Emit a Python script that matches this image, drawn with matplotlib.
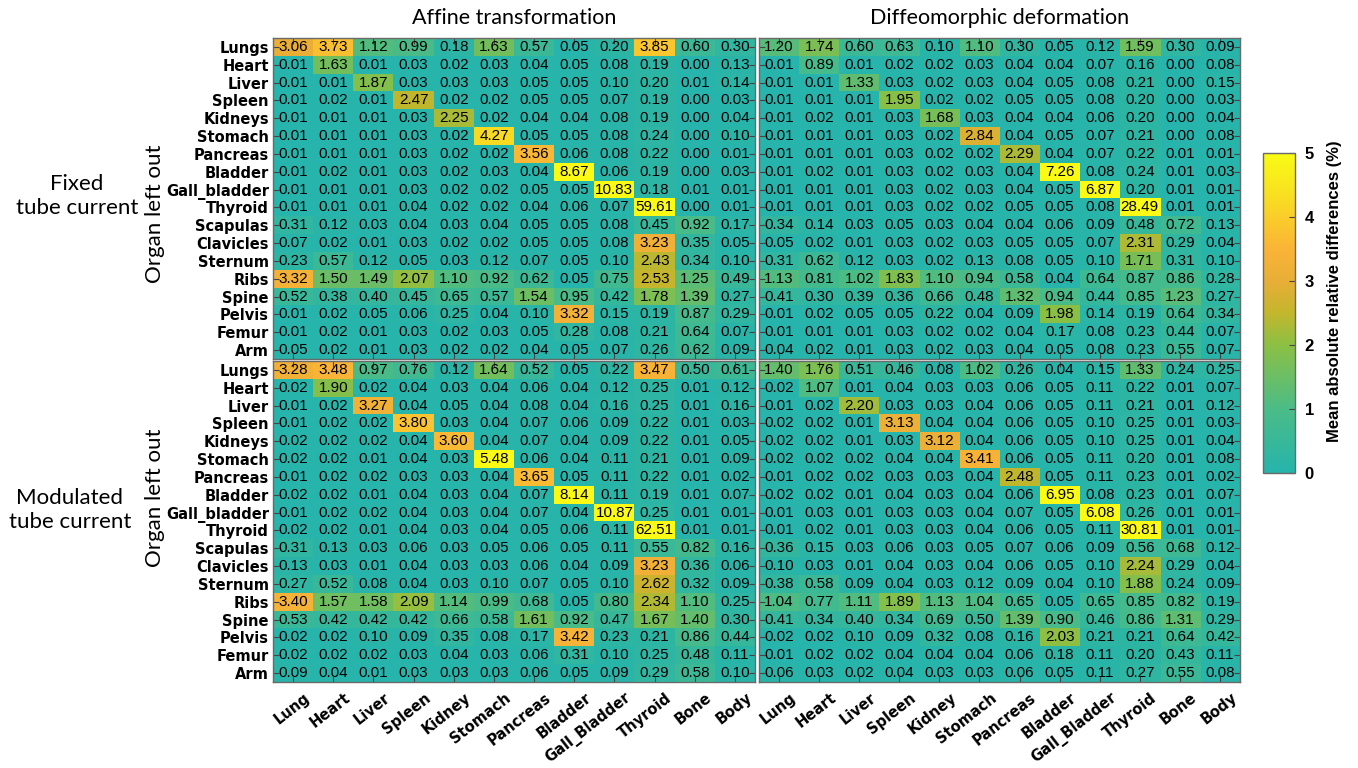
import numpy as np
import matplotlib
matplotlib.use('Agg')
import matplotlib.pyplot as plt
from matplotlib.colors import LinearSegmentedColormap
import matplotlib.transforms as mtransforms

organs_left_out = ["Lungs", "Heart", "Liver", "Spleen", "Kidneys", "Stomach", "Pancreas",
                   "Bladder", "Gall_bladder", "Thyroid", "Scapulas", "Clavicles", "Sternum",
                   "Ribs", "Spine", "Pelvis", "Femur", "Arm"]
dose_organs = ["Lung", "Heart", "Liver", "Spleen", "Kidney", "Stomach", "Pancreas",
               "Bladder", "Gall_Bladder", "Thyroid", "Bone", "Body"]

fixed_affine = [
    [3.06, 3.73, 1.12, 0.99, 0.18, 1.63, 0.57, 0.05, 0.20, 3.85, 0.60, 0.30],
    [0.01, 1.63, 0.01, 0.03, 0.02, 0.03, 0.04, 0.05, 0.08, 0.19, 0.00, 0.13],
    [0.01, 0.01, 1.87, 0.03, 0.03, 0.03, 0.05, 0.05, 0.10, 0.20, 0.01, 0.14],
    [0.01, 0.02, 0.01, 2.47, 0.02, 0.02, 0.05, 0.05, 0.07, 0.19, 0.00, 0.03],
    [0.01, 0.01, 0.01, 0.03, 2.25, 0.02, 0.04, 0.04, 0.08, 0.19, 0.00, 0.04],
    [0.01, 0.01, 0.01, 0.03, 0.02, 4.27, 0.05, 0.05, 0.08, 0.24, 0.00, 0.10],
    [0.01, 0.01, 0.01, 0.03, 0.02, 0.02, 3.56, 0.06, 0.08, 0.22, 0.00, 0.01],
    [0.01, 0.02, 0.01, 0.03, 0.02, 0.03, 0.04, 8.67, 0.06, 0.19, 0.00, 0.03],
    [0.01, 0.01, 0.01, 0.03, 0.02, 0.02, 0.05, 0.05, 10.83, 0.18, 0.01, 0.01],
    [0.01, 0.01, 0.01, 0.04, 0.02, 0.02, 0.04, 0.06, 0.07, 59.61, 0.00, 0.01],
    [0.31, 0.12, 0.03, 0.04, 0.03, 0.04, 0.05, 0.05, 0.08, 0.45, 0.92, 0.17],
    [0.07, 0.02, 0.01, 0.03, 0.02, 0.02, 0.05, 0.05, 0.08, 3.23, 0.35, 0.05],
    [0.23, 0.57, 0.12, 0.05, 0.03, 0.12, 0.07, 0.05, 0.10, 2.43, 0.34, 0.10],
    [3.32, 1.50, 1.49, 2.07, 1.10, 0.92, 0.62, 0.05, 0.75, 2.53, 1.25, 0.49],
    [0.52, 0.38, 0.40, 0.45, 0.65, 0.57, 1.54, 0.95, 0.42, 1.78, 1.39, 0.27],
    [0.01, 0.02, 0.05, 0.06, 0.25, 0.04, 0.10, 3.32, 0.15, 0.19, 0.87, 0.29],
    [0.01, 0.02, 0.01, 0.03, 0.02, 0.03, 0.05, 0.28, 0.08, 0.21, 0.64, 0.07],
    [0.05, 0.02, 0.01, 0.03, 0.02, 0.02, 0.04, 0.05, 0.07, 0.26, 0.62, 0.09],
]

fixed_diffeo = [
    [1.20, 1.74, 0.60, 0.63, 0.10, 1.10, 0.30, 0.05, 0.12, 1.59, 0.30, 0.09],
    [0.01, 0.89, 0.01, 0.02, 0.02, 0.03, 0.04, 0.04, 0.07, 0.16, 0.00, 0.08],
    [0.01, 0.01, 1.33, 0.03, 0.02, 0.03, 0.04, 0.05, 0.08, 0.21, 0.00, 0.15],
    [0.01, 0.01, 0.01, 1.95, 0.02, 0.02, 0.05, 0.05, 0.08, 0.20, 0.00, 0.03],
    [0.01, 0.02, 0.01, 0.03, 1.68, 0.03, 0.04, 0.04, 0.06, 0.20, 0.00, 0.04],
    [0.01, 0.01, 0.01, 0.03, 0.02, 2.84, 0.04, 0.05, 0.07, 0.21, 0.00, 0.08],
    [0.01, 0.01, 0.01, 0.03, 0.02, 0.02, 2.29, 0.04, 0.07, 0.22, 0.01, 0.01],
    [0.01, 0.02, 0.01, 0.03, 0.02, 0.03, 0.04, 7.26, 0.08, 0.24, 0.01, 0.03],
    [0.01, 0.01, 0.01, 0.03, 0.02, 0.03, 0.04, 0.05, 6.87, 0.20, 0.01, 0.01],
    [0.01, 0.01, 0.01, 0.03, 0.02, 0.02, 0.05, 0.05, 0.08, 28.49, 0.01, 0.01],
    [0.34, 0.14, 0.03, 0.05, 0.03, 0.04, 0.04, 0.06, 0.09, 0.48, 0.72, 0.13],
    [0.05, 0.02, 0.01, 0.03, 0.02, 0.03, 0.05, 0.05, 0.07, 2.31, 0.29, 0.04],
    [0.31, 0.62, 0.12, 0.03, 0.02, 0.13, 0.08, 0.05, 0.10, 1.71, 0.31, 0.10],
    [1.13, 0.81, 1.02, 1.83, 1.10, 0.94, 0.58, 0.04, 0.64, 0.87, 0.86, 0.28],
    [0.41, 0.30, 0.39, 0.36, 0.66, 0.48, 1.32, 0.94, 0.44, 0.85, 1.23, 0.27],
    [0.01, 0.02, 0.05, 0.05, 0.22, 0.04, 0.09, 1.98, 0.14, 0.19, 0.64, 0.34],
    [0.01, 0.01, 0.01, 0.03, 0.02, 0.02, 0.04, 0.17, 0.08, 0.23, 0.44, 0.07],
    [0.04, 0.02, 0.01, 0.03, 0.02, 0.03, 0.04, 0.05, 0.08, 0.23, 0.55, 0.07],
]

modulated_affine = [
    [3.28, 3.48, 0.97, 0.76, 0.12, 1.64, 0.52, 0.05, 0.22, 3.47, 0.50, 0.61],
    [0.02, 1.90, 0.02, 0.04, 0.03, 0.04, 0.06, 0.04, 0.12, 0.25, 0.01, 0.12],
    [0.01, 0.02, 3.27, 0.04, 0.05, 0.04, 0.08, 0.04, 0.16, 0.25, 0.01, 0.16],
    [0.01, 0.02, 0.02, 3.80, 0.03, 0.04, 0.07, 0.06, 0.09, 0.22, 0.01, 0.03],
    [0.02, 0.02, 0.02, 0.04, 3.60, 0.04, 0.07, 0.04, 0.09, 0.22, 0.01, 0.05],
    [0.02, 0.02, 0.01, 0.04, 0.03, 5.48, 0.06, 0.04, 0.11, 0.21, 0.01, 0.09],
    [0.01, 0.02, 0.02, 0.03, 0.03, 0.04, 3.65, 0.05, 0.11, 0.22, 0.01, 0.02],
    [0.02, 0.02, 0.01, 0.04, 0.03, 0.04, 0.07, 8.14, 0.11, 0.19, 0.01, 0.07],
    [0.01, 0.02, 0.02, 0.04, 0.03, 0.04, 0.07, 0.04, 10.87, 0.25, 0.01, 0.01],
    [0.02, 0.02, 0.01, 0.04, 0.03, 0.04, 0.05, 0.06, 0.11, 62.51, 0.01, 0.01],
    [0.31, 0.13, 0.03, 0.06, 0.03, 0.05, 0.06, 0.05, 0.11, 0.55, 0.82, 0.16],
    [0.13, 0.03, 0.01, 0.04, 0.03, 0.03, 0.06, 0.04, 0.09, 3.23, 0.36, 0.06],
    [0.27, 0.52, 0.08, 0.04, 0.03, 0.10, 0.07, 0.05, 0.10, 2.62, 0.32, 0.09],
    [3.40, 1.57, 1.58, 2.09, 1.14, 0.99, 0.68, 0.05, 0.80, 2.34, 1.10, 0.25],
    [0.53, 0.42, 0.42, 0.42, 0.66, 0.58, 1.61, 0.92, 0.47, 1.67, 1.40, 0.30],
    [0.02, 0.02, 0.10, 0.09, 0.35, 0.08, 0.17, 3.42, 0.23, 0.21, 0.86, 0.44],
    [0.02, 0.02, 0.02, 0.03, 0.04, 0.03, 0.06, 0.31, 0.10, 0.25, 0.48, 0.11],
    [0.09, 0.04, 0.01, 0.03, 0.03, 0.03, 0.06, 0.05, 0.09, 0.29, 0.58, 0.10],
]

modulated_diffeo = [
    [1.40, 1.76, 0.51, 0.46, 0.08, 1.02, 0.26, 0.04, 0.15, 1.33, 0.24, 0.25],
    [0.02, 1.07, 0.01, 0.04, 0.03, 0.03, 0.06, 0.05, 0.11, 0.22, 0.01, 0.07],
    [0.01, 0.02, 2.20, 0.03, 0.03, 0.04, 0.06, 0.05, 0.11, 0.21, 0.01, 0.12],
    [0.02, 0.02, 0.01, 3.13, 0.04, 0.04, 0.06, 0.05, 0.10, 0.25, 0.01, 0.03],
    [0.02, 0.02, 0.01, 0.03, 3.12, 0.04, 0.06, 0.05, 0.10, 0.25, 0.01, 0.04],
    [0.02, 0.02, 0.02, 0.04, 0.04, 3.41, 0.06, 0.05, 0.11, 0.20, 0.01, 0.08],
    [0.01, 0.02, 0.02, 0.03, 0.03, 0.04, 2.48, 0.05, 0.11, 0.23, 0.01, 0.02],
    [0.02, 0.02, 0.01, 0.04, 0.03, 0.04, 0.06, 6.95, 0.08, 0.23, 0.01, 0.07],
    [0.01, 0.03, 0.01, 0.03, 0.03, 0.04, 0.07, 0.05, 6.08, 0.26, 0.01, 0.01],
    [0.01, 0.02, 0.01, 0.03, 0.03, 0.04, 0.06, 0.05, 0.11, 30.81, 0.01, 0.01],
    [0.36, 0.15, 0.03, 0.06, 0.03, 0.05, 0.07, 0.06, 0.09, 0.56, 0.68, 0.12],
    [0.10, 0.03, 0.01, 0.04, 0.03, 0.04, 0.06, 0.05, 0.10, 2.24, 0.29, 0.04],
    [0.38, 0.58, 0.09, 0.04, 0.03, 0.12, 0.09, 0.04, 0.10, 1.88, 0.24, 0.09],
    [1.04, 0.77, 1.11, 1.89, 1.13, 1.04, 0.65, 0.05, 0.65, 0.85, 0.82, 0.19],
    [0.41, 0.34, 0.40, 0.34, 0.69, 0.50, 1.39, 0.90, 0.46, 0.86, 1.31, 0.29],
    [0.02, 0.02, 0.10, 0.09, 0.32, 0.08, 0.16, 2.03, 0.21, 0.21, 0.64, 0.42],
    [0.01, 0.02, 0.02, 0.04, 0.04, 0.04, 0.06, 0.18, 0.11, 0.20, 0.43, 0.11],
    [0.06, 0.03, 0.02, 0.04, 0.03, 0.03, 0.06, 0.05, 0.11, 0.27, 0.55, 0.08],
]

col_titles = ["Affine transformation", "Diffeomorphic deformation"]
row_titles = ["Fixed\ntube current", "Modulated\ntube current"]
cbar_label = "Mean absolute relative differences (%)"

# parula-like upper half colour map
anchors = [
    (0.0, (38, 180, 172)),
    (0.2, (75, 188, 135)),
    (0.4, (140, 192, 68)),
    (0.5, (195, 182, 45)),
    (0.6, (232, 174, 55)),
    (0.7, (250, 180, 55)),
    (0.8, (250, 205, 42)),
    (0.9, (248, 230, 30)),
    (1.0, (250, 250, 20)),
]
cmap = LinearSegmentedColormap.from_list(
    "parula_top", [(p, tuple(c / 255 for c in rgb)) for p, rgb in anchors])

W, H = 1358, 768
fig = plt.figure(figsize=(W / 100, H / 100), dpi=100)


def px_axes(x0, y0, x1, y1):
    return fig.add_axes([x0 / W, 1 - y1 / H, (x1 - x0) / W, (y1 - y0) / H])


label_font = "DejaVu Sans"
num_font = "Liberation Sans"
title_font = ["Lato", "DejaVu Sans"]
edge = "#6a6a6a"

panels = [
    (fixed_affine, (273, 38, 755, 359), True, False),
    (fixed_diffeo, (759, 38, 1240, 359), False, False),
    (modulated_affine, (273, 361, 755, 682), True, True),
    (modulated_diffeo, (759, 361, 1240, 682), False, True),
]

im = None
for data, box, show_y, show_x in panels:
    ax = px_axes(*box)
    arr = np.array(data)
    im = ax.imshow(arr, cmap=cmap, vmin=0, vmax=5, aspect="auto", interpolation="nearest")
    for i in range(arr.shape[0]):
        for j in range(arr.shape[1]):
            ax.text(j, i, f"{arr[i, j]:.2f}", ha="center", va="center",
                    fontsize=11, family=num_font, color="black")
    ax.set_yticks(range(len(organs_left_out)))
    ax.set_xticks(range(len(dose_organs)))
    ax.tick_params(direction="in", length=4, width=0.8, color="#444444",
                   left=True, right=True, top=True, bottom=True,
                   labelleft=show_y, labelbottom=show_x, pad=3)
    if show_y:
        ax.set_yticklabels(organs_left_out, fontsize=10.5, fontweight="bold", family=label_font)
    else:
        ax.set_yticklabels([])
    if show_x:
        ax.set_xticklabels(dose_organs, fontsize=10.5, fontweight="bold", family=label_font,
                           rotation=38, ha="right", va="center", rotation_mode="anchor")
        offset = mtransforms.ScaledTranslation(15 / 100, -10 / 100, fig.dpi_scale_trans)
        for lab in ax.get_xticklabels():
            lab.set_transform(lab.get_transform() + offset)
    else:
        ax.set_xticklabels([])
    for sp in ax.spines.values():
        sp.set_color(edge)
        sp.set_linewidth(1.0)

# column titles
fig.text(514 / W, 1 - 18 / H, col_titles[0], ha="center", va="center", fontsize=15.5,
         family=title_font)
fig.text(1000 / W, 1 - 18 / H, col_titles[1], ha="center", va="center", fontsize=15.5,
         family=title_font)

# row titles
fig.text(77 / W, 1 - 196 / H, row_titles[0], ha="center", va="center", fontsize=16,
         family=title_font, linespacing=1.25)
fig.text(70 / W, 1 - 510 / H, row_titles[1], ha="center", va="center", fontsize=16,
         family=title_font, linespacing=1.25)
fig.text(155 / W, 1 - 214 / H, "Organ left out", ha="center", va="center", fontsize=16,
         family=title_font, rotation=90)
fig.text(155 / W, 1 - 498 / H, "Organ left out", ha="center", va="center", fontsize=16,
         family=title_font, rotation=90)

# colour bar
cax = px_axes(1263, 153, 1295, 473)
cb = fig.colorbar(im, cax=cax, ticks=range(6))
cb.outline.set_edgecolor(edge)
cb.outline.set_linewidth(1.0)
cax.tick_params(direction="in", length=4, width=0.8, color="#444444", pad=7, labelsize=12)
for t in cax.get_yticklabels():
    t.set_fontweight("bold")
    t.set_family(num_font)
fig.text(1335 / W, 1 - 291 / H, cbar_label, ha="center", va="center", rotation=90,
         fontsize=12, fontweight="bold", family=num_font)

fig.savefig("out.png", dpi=100, facecolor="white")
